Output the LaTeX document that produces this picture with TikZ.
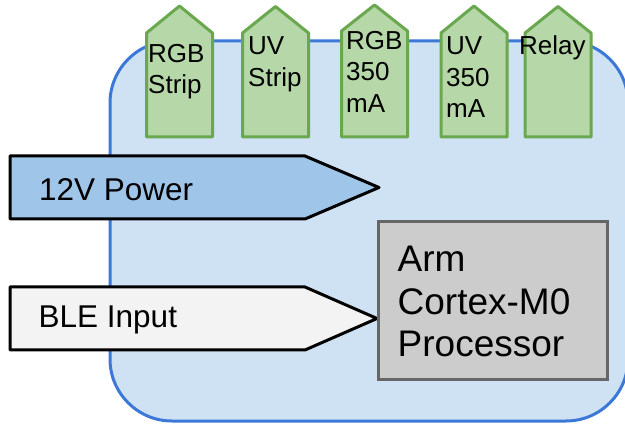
\documentclass[tikz,border=0pt]{standalone}
\usepackage{fontspec}
\setmainfont{Liberation Sans}
\definecolor{boardfill}{HTML}{CFE2F3}
\definecolor{boardline}{HTML}{3C78D8}
\definecolor{tabfill}{HTML}{B6D7A8}
\definecolor{tabline}{HTML}{6AA84F}
\definecolor{powerfill}{HTML}{9FC5E8}
\definecolor{blefill}{HTML}{F3F3F3}
\definecolor{cpufill}{HTML}{CCCCCC}
\definecolor{cpuline}{HTML}{666666}
\tikzset{
  board/.style={draw=boardline, fill=boardfill, line width=3pt, rounded corners=62pt},
  tabshape/.style={draw=tabline, fill=tabfill, line width=3pt, line join=round},
  % multi-line labels are anchored on the baseline of their last line
  tablabel/.style={anchor=base west, inner sep=0pt, align=left,
    font=\fontsize{26}{31.5}\selectfont},
  inarrow/.style={draw=black, line width=3pt, line join=round},
  inlabel/.style={anchor=base west, inner sep=0pt, font=\fontsize{31.5}{36}\selectfont},
  cpubox/.style={draw=cpuline, fill=cpufill, line width=3pt},
  cpulabel/.style={anchor=base west, inner sep=0pt, align=left,
    font=\fontsize{37}{43}\selectfont}
}
\begin{document}
\begin{tikzpicture}[x=1pt, y=-1pt]
\useasboundingbox (0,0) rectangle (625,425);

% controller board, running off the right edge
\begin{scope}
  \clip (0,0) rectangle (625,425);
  \draw[board] (110,41) rectangle (628,421);
\end{scope}

% input arrows
\draw[inarrow, fill=powerfill] (10,156) -- (305,156) -- (379,187.5) -- (305,219) -- (10,219) -- cycle;
\node[inlabel] (power) at (39,201) {12V Power};
\draw[inarrow, fill=blefill] (10,287) -- (305,287) -- (377,318.5) -- (305,350) -- (10,350) -- cycle;
\node[inlabel] (ble) at (38.5,327) {BLE Input};

% output tabs
\draw[tabshape] (146.5,137) -- (146.5,33) -- (179.5,6) -- (212.5,33) -- (212.5,137) -- cycle;
\node[tablabel] (rgbstrip) at (148,94) {RGB\\Strip};
\draw[tabshape] (242.5,137) -- (242.5,33) -- (275.5,6.5) -- (308.5,33) -- (308.5,137) -- cycle;
\node[tablabel] (uvstrip) at (248,86.5) {UV\\Strip};
\draw[tabshape] (341.5,137) -- (341.5,31) -- (374.5,5) -- (407.5,31) -- (407.5,137) -- cycle;
\node[tablabel] (rgbled) at (346,112.5) {RGB\\350\\mA};
\draw[tabshape] (441,137) -- (441,33) -- (474,6) -- (507,33) -- (507,137) -- cycle;
\node[tablabel] (uvled) at (446,118) {UV\\350\\mA};
\draw[tabshape] (525,137) -- (525,33) -- (558,6.5) -- (591,33) -- (591,137) -- cycle;
\node[tablabel] (relay) at (519,55) {Relay};

% processor
\draw[cpubox] (378,222) rectangle (607,380);
\node[cpulabel] (cpu) at (397.5,357) {Arm\\Cortex-M0\\Processor};
\end{tikzpicture}
\end{document}
